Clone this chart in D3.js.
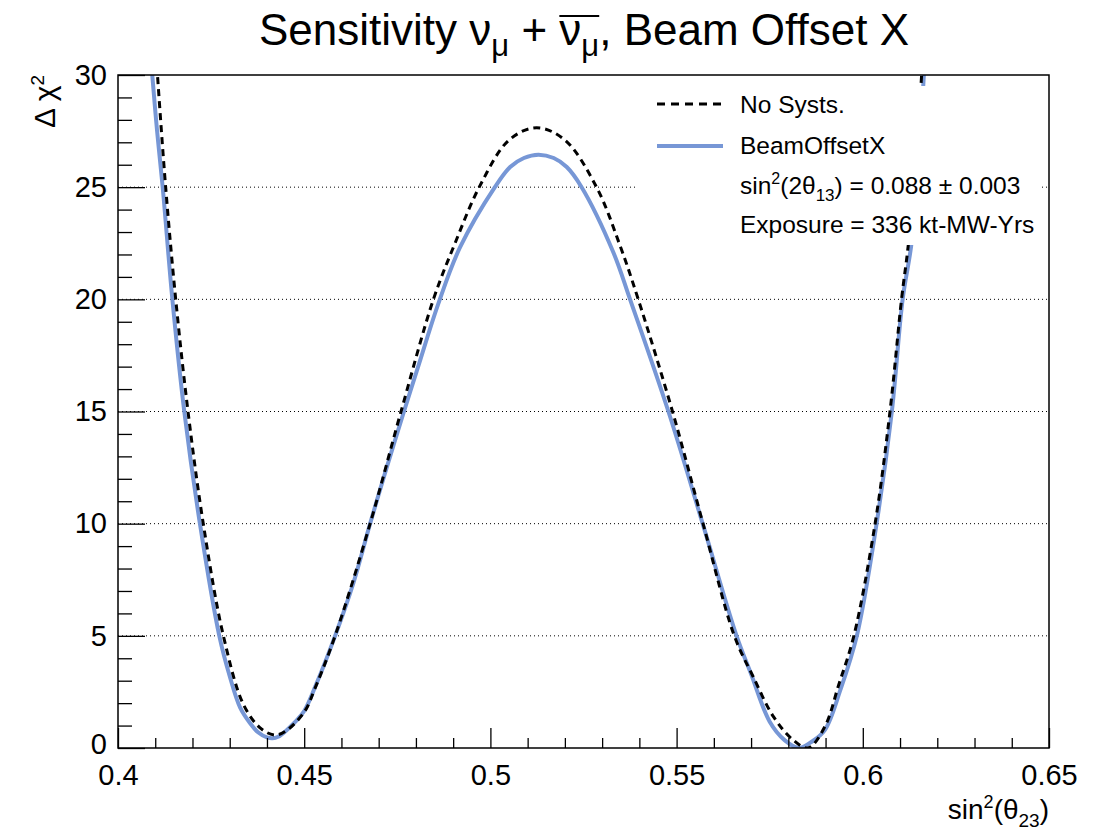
<!DOCTYPE html>
<html>
<head>
<meta charset="utf-8">
<script src="https://cdn.jsdelivr.net/npm/d3@7"></script>
<style>
  body { margin: 0; background: #fff; }
  text { font-family: "Liberation Sans", Arial, Helvetica, sans-serif; fill: #000; }
</style>
</head>
<body>
<div id="chart"></div>
<script>
// sin^2(theta23) values and delta chi^2
const sin2NoSyst = [0.4100, 0.4106, 0.4128, 0.4155, 0.4188, 0.4229, 0.4283, 0.4338, 0.4385, 0.4422,
  0.4450, 0.4500, 0.4530, 0.4583, 0.4677, 0.4760, 0.4847, 0.4905, 0.4970, 0.5050, 0.5124,
  0.5200, 0.5285, 0.5348, 0.5397, 0.5489, 0.5571, 0.5655, 0.5705, 0.5760, 0.5810, 0.5853,
  0.5898, 0.5935, 0.5976, 0.6033, 0.6073, 0.6104, 0.6122, 0.6145, 0.6158, 0.6165];
const chi2NoSyst = [31.5, 30.0, 25.0, 20.0, 15.0, 10.0, 5.0, 1.9, 0.85, 0.58,
  0.75, 1.6, 2.7, 5.0, 10.0, 15.0, 20.0, 22.5, 25.0, 27.1, 27.65,
  27.1, 25.0, 22.4, 20.0, 15.0, 10.0, 5.0, 3.2, 1.4, 0.4, 0.0,
  0.95, 2.8, 5.0, 10.0, 15.0, 20.0, 22.4, 26.5, 30.0, 31.5];

const sin2Beam = [0.4086, 0.4092, 0.4105, 0.4120, 0.4146, 0.4178, 0.4220, 0.4272, 0.4300, 0.4328,
  0.4355, 0.4376, 0.4400, 0.4415, 0.4430, 0.4450, 0.4475, 0.4500, 0.4530, 0.4583, 0.4632,
  0.4677, 0.4717, 0.4766, 0.4806, 0.4860, 0.4918, 0.5012, 0.5053, 0.5090, 0.5129, 0.5170,
  0.5205, 0.5245, 0.5330, 0.5375, 0.5478, 0.5570, 0.5661, 0.5700, 0.5750, 0.5790, 0.5828,
  0.5860, 0.5898, 0.5940, 0.5984, 0.6037, 0.6078, 0.6107, 0.6130, 0.6150, 0.6164, 0.6170];
const chi2Beam = [31.5, 30.0, 27.5, 25.0, 20.0, 15.0, 10.0, 5.0, 3.2, 1.8,
  1.1, 0.7, 0.47, 0.43, 0.5, 0.75, 1.15, 1.65, 2.75, 5.0, 7.35,
  10.0, 12.25, 14.9, 17.0, 19.8, 22.3, 25.0, 25.9, 26.3, 26.45, 26.3,
  25.9, 25.0, 22.1, 20.0, 15.0, 10.0, 5.0, 3.3, 1.17, 0.35, 0.0,
  0.25, 0.8, 2.6, 5.0, 10.0, 15.0, 20.0, 22.4, 26.0, 30.0, 31.5];

const xTicks = [0.4, 0.45, 0.5, 0.55, 0.6, 0.65];
const xTickLabels = ["0.4", "0.45", "0.5", "0.55", "0.6", "0.65"];
const yTicks = [0, 5, 10, 15, 20, 25, 30];
const gridLevels = [5, 10, 15, 20, 25];

const W = 1106, H = 834;
const frame = { left: 118, right: 1049, top: 75, bottom: 748 };

const svg = d3.select("#chart").append("svg")
  .attr("width", W)
  .attr("height", H);

const x = d3.scaleLinear().domain([0.4, 0.65]).range([frame.left, frame.right]);
const y = d3.scaleLinear().domain([0, 30]).range([frame.bottom, frame.top]);

// clip for the curves
svg.append("clipPath").attr("id", "plot")
  .append("rect")
  .attr("x", frame.left).attr("y", frame.top)
  .attr("width", frame.right - frame.left).attr("height", frame.bottom - frame.top);

// dotted horizontal grid
svg.selectAll(".grid")
  .data(gridLevels)
  .enter()
  .append("line")
  .attr("class", "grid")
  .attr("x1", frame.left).attr("x2", frame.right)
  .attr("y1", d => y(d)).attr("y2", d => y(d))
  .attr("stroke", "#000")
  .attr("stroke-width", 1)
  .attr("stroke-dasharray", "1,3");

const line = d3.line()
  .x(d => x(d[0]))
  .y(d => y(d[1]))
  .curve(d3.curveCatmullRom.alpha(0.5));

const curves = svg.append("g").attr("clip-path", "url(#plot)");

curves.append("path")
  .datum(sin2Beam.map((s, i) => [s, chi2Beam[i]]))
  .attr("d", line)
  .attr("fill", "none")
  .attr("stroke", "#7797d6")
  .attr("stroke-width", 4);

curves.append("path")
  .datum(sin2NoSyst.map((s, i) => [s, chi2NoSyst[i]]))
  .attr("d", line)
  .attr("fill", "none")
  .attr("stroke", "#000")
  .attr("stroke-width", 3)
  .attr("stroke-dasharray", "7,5");

// x axis, ticks point inward
const xAxis = svg.append("g")
  .attr("transform", `translate(0,${frame.bottom})`)
  .call(d3.axisBottom(x).tickValues(xTicks).tickSize(-20).tickPadding(16)
    .tickFormat((d, i) => xTickLabels[i]));
svg.append("g")
  .attr("transform", `translate(0,${frame.bottom})`)
  .call(d3.axisBottom(x).tickValues(d3.range(0.41, 0.65, 0.01).filter(v => Math.abs(v * 20 - Math.round(v * 20)) > 1e-6))
    .tickSize(-10).tickFormat(""));

const yAxis = svg.append("g")
  .attr("transform", `translate(${frame.left},0)`)
  .call(d3.axisLeft(y).tickValues(yTicks).tickSize(-27).tickPadding(11));
svg.append("g")
  .attr("transform", `translate(${frame.left},0)`)
  .call(d3.axisLeft(y).tickValues(d3.range(1, 30, 1).filter(v => v % 5 !== 0))
    .tickSize(-14).tickFormat(""));

svg.selectAll(".domain").remove();
svg.selectAll(".tick line").attr("stroke", "#000").attr("stroke-width", 1.3);
xAxis.selectAll("text").style("font-size", "29px").attr("fill", "#000");
yAxis.selectAll("text").style("font-size", "29px").attr("fill", "#000");
// the "0" label sits a touch higher so it clears "0.4"
yAxis.selectAll(".tick").filter(d => d === 0).select("text").attr("dy", "0.2em");

// frame
svg.append("rect")
  .attr("x", frame.left).attr("y", frame.top)
  .attr("width", frame.right - frame.left).attr("height", frame.bottom - frame.top)
  .attr("fill", "none")
  .attr("stroke", "#000")
  .attr("stroke-width", 1.5);

// legend
const lg = svg.append("g");
lg.append("rect")
  .attr("x", 635).attr("y", 86)
  .attr("width", 405).attr("height", 159)
  .attr("fill", "#fff");
lg.append("line")
  .attr("x1", 657).attr("x2", 723).attr("y1", 104).attr("y2", 104)
  .attr("stroke", "#000").attr("stroke-width", 3).attr("stroke-dasharray", "8,6");
lg.append("line")
  .attr("x1", 657).attr("x2", 723).attr("y1", 146).attr("y2", 146)
  .attr("stroke", "#7797d6").attr("stroke-width", 4);
lg.append("text").attr("x", 740).attr("y", 113).style("font-size", "24.5px").text("No Systs.");
lg.append("text").attr("x", 740).attr("y", 154).style("font-size", "24.5px").text("BeamOffsetX");
const t13 = lg.append("text").attr("x", 740).attr("y", 194).style("font-size", "24.5px");
t13.append("tspan").text("sin");
t13.append("tspan").attr("dy", -10).style("font-size", "16px").text("2");
t13.append("tspan").attr("dy", 10).text("(2θ");
t13.append("tspan").attr("dy", 7).style("font-size", "17px").text("13");
t13.append("tspan").attr("dy", -7).text(") = 0.088 ± 0.003");
lg.append("text").attr("x", 740).attr("y", 233).style("font-size", "24.5px").text("Exposure = 336 kt-MW-Yrs");

// title
const title = svg.append("text")
  .attr("x", 584).attr("y", 45)
  .attr("text-anchor", "middle")
  .style("font-size", "44px");
title.append("tspan").text("Sensitivity ν");
title.append("tspan").attr("dy", 11).style("font-size", "31px").text("μ");
title.append("tspan").attr("dy", -11).text(" + ");
title.append("tspan").text("ν");
title.append("tspan").attr("dy", 11).style("font-size", "31px").text("μ");
title.append("tspan").attr("dy", -11).text(", Beam Offset X");

// overline on the anti-neutrino
const tnode = title.node();
const full = tnode.textContent;
const idx = full.indexOf("+ ν") + 2;
const p0 = tnode.getStartPositionOfChar(idx);
const p1 = tnode.getEndPositionOfChar(idx + 1);
svg.append("line")
  .attr("x1", p0.x).attr("x2", p1.x)
  .attr("y1", 16).attr("y2", 16)
  .attr("stroke", "#000").attr("stroke-width", 2);

// axis titles
const xt = svg.append("text")
  .attr("x", 1049).attr("y", 819)
  .attr("text-anchor", "end")
  .style("font-size", "28px");
xt.append("tspan").text("sin");
xt.append("tspan").attr("dy", -11).style("font-size", "18px").text("2");
xt.append("tspan").attr("dy", 11).text("(θ");
xt.append("tspan").attr("dy", 8).style("font-size", "19px").text("23");
xt.append("tspan").attr("dy", -8).text(")");

const yt = svg.append("text")
  .attr("transform", "translate(55,75) rotate(-90)")
  .attr("text-anchor", "end")
  .style("font-size", "30px");
yt.append("tspan").text("Δ χ");
yt.append("tspan").attr("dy", -11).style("font-size", "19px").text("2");
</script>
</body>
</html>
